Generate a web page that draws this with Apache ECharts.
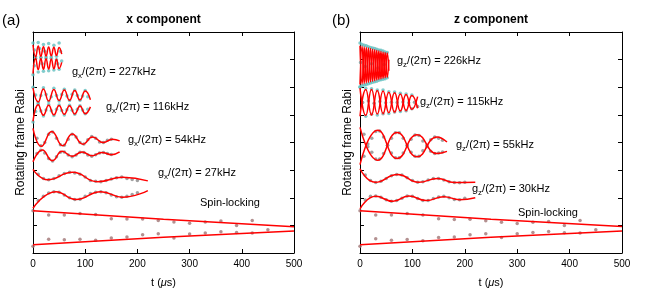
<!DOCTYPE html>
<html><head><meta charset="utf-8">
<script src="https://cdn.jsdelivr.net/npm/echarts@6/dist/echarts.min.js"></script>
<style>html,body{margin:0;padding:0;background:#fff}#c{width:654px;height:298px}</style>
</head><body><div id="c"></div>
<script>
// ---------- ticks ----------
const xTicks = [0, 100, 200, 300, 400, 500];
const yTickCount = 8;

// ---------- panel (a): x component ----------
const a227UpFit = [[0,7.53],[5,7.1],[10,7.49],[15,7.12],[20,7.47],[25,7.13],[30,7.46],[35,7.14],[40,7.45],[45,7.15],[50,7.44],[55,7.2]];
const a227LoFit = [[0,6.5],[5,7.05],[10,6.64],[15,7.04],[20,6.65],[25,7.03],[30,6.66],[35,7.02],[40,6.67],[45,7.01],[50,6.68],[55,6.9]];
const a227Pts = [[0,7.6],[2.5,7.35],[5,7.05],[10,7.62],[12.5,7.4],[15,7.08],[20,7.55],[22.5,7.3],[25,7.1],[30,7.58],[35,7.1],[40,7.52],[45,7.12],[50,7.6],[52.5,7.3],
  [0,6.45],[2.5,6.78],[5,7.1],[10,6.55],[15,7.08],[17.5,6.85],[20,6.58],[25,7.05],[30,6.6],[35,7.05],[40,6.62],[45,7.0],[47.5,6.85],[50,6.65],[55,6.95]];

const a116UpFit = [[0,5.97],[10,5.47],[20,5.94],[30,5.5],[40,5.92],[50,5.52],[60,5.9],[70,5.53],[80,5.88],[90,5.54],[100,5.86],[110,5.55]];
const a116LoFit = [[0,4.77],[10,5.37],[20,4.99],[30,5.35],[40,5.0],[50,5.34],[60,5.02],[70,5.33],[80,5.03],[90,5.32],[100,5.04],[110,5.29]];
const a116Pts = [[0,6.0],[5,5.72],[10,5.44],[15,5.7],[20,5.98],[25,5.74],[30,5.48],[35,5.66],[40,5.96],[45,5.7],[50,5.5],[55,5.74],[60,5.93],[65,5.68],[70,5.52],[75,5.75],[80,5.9],[85,5.7],[90,5.53],[95,5.68],[100,5.88],[105,5.66],
  [0,4.74],[5,5.12],[10,5.39],[15,5.14],[20,4.96],[25,5.18],[30,5.38],[35,5.15],[40,4.98],[45,5.2],[50,5.36],[55,5.16],[60,5.0],[65,5.19],[70,5.35],[75,5.17],[80,5.02],[85,5.2],[90,5.33],[95,5.18],[100,5.04],[105,5.2]];

const a54UpFit = [[0,4.51],[16,3.86],[36,4.4],[57,3.88],[75,4.31],[96,3.94],[114,4.2],[135,4.0],[152,4.12],[166,4.06]];
const a54LoFit = [[0,3.3],[18,3.73],[37,3.34],[56,3.68],[75,3.5],[94,3.66],[113,3.52],[132,3.64],[150,3.56],[166,3.66]];
const a54Pts = [[7.5,4.15],[15,3.88],[22.5,4.0],[30,4.3],[37.5,4.38],[45,4.15],[52.5,3.92],[60,3.9],[67.5,4.12],[75,4.3],[82.5,4.2],[90,4.0],[97.5,3.95],[105,4.1],[112.5,4.22],[120,4.15],[127.5,4.02],[135,4.0],[142.5,4.08],[150,4.12],
  [7.5,3.6],[15,3.72],[22.5,3.62],[30,3.42],[37.5,3.33],[45,3.48],[52.5,3.65],[60,3.66],[67.5,3.55],[75,3.48],[82.5,3.55],[90,3.65],[97.5,3.64],[105,3.55],[112.5,3.5],[120,3.56],[127.5,3.62],[135,3.64],[142.5,3.6],[150,3.57]];

const a27UpFit = [[0,3.03],[28,2.65],[76,2.92],[124,2.58],[172,2.74],[220,2.61]];
const a27LoFit = [[0,1.62],[44,2.22],[82,1.94],[130,2.22],[171,2.02],[220,2.26]];
const a27Pts = [[10,2.85],[20,2.7],[30,2.65],[40,2.7],[50,2.8],[60,2.88],[70,2.92],[80,2.9],[90,2.85],[100,2.75],[110,2.62],[120,2.6],[130,2.58],[140,2.62],[150,2.68],[160,2.72],[170,2.75],[180,2.7],[190,2.66],[200,2.62],
  [10,1.9],[20,2.05],[30,2.17],[40,2.22],[50,2.2],[60,2.1],[70,2.0],[80,1.94],[90,1.95],[100,2.05],[110,2.15],[120,2.2],[130,2.22],[140,2.18],[150,2.1],[160,2.04],[170,2.02],[180,2.05],[190,2.12],[200,2.18]];

const aSlUpFit = [[0,1.53],[250,1.22],[500,0.95]];
const aSlLoFit = [[0,0.3],[250,0.57],[500,0.8]];
const aSlPts = [[0,1.53],[30,1.38],[60,1.38],[90,1.43],[120,1.39],[150,1.24],[180,1.23],[210,1.23],[240,1.18],[270,1.12],[300,1.08],[330,1.12],[360,1.16],[390,1.0],[420,1.18],
  [0,0.24],[30,0.5],[60,0.48],[90,0.5],[120,0.46],[150,0.54],[180,0.58],[210,0.66],[240,0.7],[270,0.54],[300,0.69],[330,0.72],[360,0.77],[390,0.74],[420,0.72],[450,0.84]];

// ---------- panel (b): z component ----------
const b226AFit = [[0,7.5],[4,6.12],[8,7.46],[12,6.16],[16,7.42],[20,6.2],[24,7.38],[28,6.24],[32,7.34],[36,6.28],[40,7.3],[44,6.32],[48,7.26],[52,6.36],[55,7.0]];
const b226BFit = [[0,6.1],[4,7.48],[8,6.14],[12,7.44],[16,6.18],[20,7.4],[24,6.22],[28,7.36],[32,6.26],[36,7.32],[40,6.3],[44,7.28],[48,6.34],[52,7.24],[55,6.6]];
const b226Pts = [[0,7.6],[4,7.55],[8,7.52],[12,7.5],[16,7.47],[20,7.44],[24,7.42],[28,7.4],[32,7.38],[36,7.35],[40,7.34],[44,7.31],[48,7.28],[52,7.26],
  [1,6.9],[10,6.75],[22,6.85],[34,6.7],[46,6.82],
  [0,6.02],[4,6.06],[8,6.08],[12,6.1],[16,6.13],[20,6.15],[24,6.18],[28,6.2],[32,6.22],[36,6.25],[40,6.27],[44,6.29],[48,6.31],[52,6.34]];

const b115AFit = [[0,5.97],[11,4.98],[22,5.92],[33,5.03],[44,5.86],[55,5.08],[66,5.8],[77,5.14],[88,5.74],[99,5.2],[110,5.66]];
const b115BFit = [[0,4.95],[11,5.92],[22,5.0],[33,5.88],[44,5.05],[55,5.82],[66,5.1],[77,5.76],[88,5.16],[99,5.7],[110,5.24]];
const b115CyanPts = [[0,6.0],[11,5.96],[22,5.95],[33,5.9],[44,5.9],[55,5.84],[66,5.83],[77,5.78],[88,5.76],[99,5.72],[11,4.95],[33,5.0],[55,5.05],[77,5.12]];
const b115GrayPts = [[5,5.45],[16,5.5],[27,5.42],[38,5.48],[49,5.44],[60,5.46],[71,5.45],[82,5.47],[93,5.44],[104,5.46],[22,5.02],[44,5.04],[66,5.1],[88,5.15],[99,5.22],[110,5.3]];

const b55AFit = [[0,4.55],[34,3.36],[71,4.36],[109,3.48],[147,4.2],[166,4.02]];
const b55BFit = [[0,3.2],[34,4.44],[71,3.42],[109,4.28],[147,3.6],[166,3.68]];
const b55Pts = [[7.5,4.3],[15,3.95],[22.5,3.65],[30,3.4],[37.5,3.4],[45,3.6],[52.5,3.9],[60,4.15],[67.5,4.35],[75,4.35],[82.5,4.15],[90,3.9],[97.5,3.65],[105,3.5],[112.5,3.5],[120,3.7],[127.5,3.9],[135,4.1],[142.5,4.2],[150,4.15],[157.5,4.08],
  [7.5,3.5],[15,3.85],[22.5,4.15],[30,4.4],[37.5,4.42],[45,4.2],[52.5,3.9],[60,3.62],[67.5,3.45],[75,3.45],[82.5,3.62],[90,3.88],[97.5,4.12],[105,4.27],[112.5,4.25],[120,4.05],[127.5,3.85],[135,3.68],[142.5,3.6],[150,3.62],[157.5,3.66]];

const b30UpFit = [[0,3.05],[29,2.56],[72,2.84],[112,2.56],[148,2.7],[180,2.55],[220,2.56]];
const b30LoFit = [[0,1.6],[30,2.05],[63,1.87],[93,2.06],[126,1.9],[160,2.04],[190,1.93],[220,2.0]];
const b30Pts = [[10,2.82],[20,2.62],[30,2.55],[40,2.6],[50,2.7],[60,2.8],[70,2.84],[80,2.82],[90,2.72],[100,2.62],[110,2.56],[120,2.58],[130,2.64],[140,2.7],[150,2.7],[160,2.64],[170,2.58],[180,2.55],[190,2.54],[200,2.56],
  [10,1.92],[20,2.05],[30,2.06],[40,2.02],[50,1.93],[60,1.87],[70,1.9],[80,1.98],[90,2.06],[100,2.05],[110,1.97],[120,1.9],[130,1.9],[140,1.97],[150,2.03],[160,2.05],[170,2.0],[180,1.94],[190,1.93],[200,1.98]];

const bSlUpFit = [[0,1.53],[250,1.22],[500,0.96]];
const bSlLoFit = [[0,0.3],[250,0.57],[500,0.8]];
const bSlPts = [[0,1.53],[30,1.38],[60,1.38],[90,1.43],[120,1.38],[150,1.24],[180,1.21],[210,1.22],[240,1.17],[270,1.11],[300,1.07],[330,1.11],[360,1.14],[390,1.0],[420,1.18],
  [0,0.24],[30,0.52],[60,0.46],[90,0.49],[120,0.44],[150,0.56],[180,0.58],[210,0.66],[240,0.7],[270,0.56],[300,0.7],[330,0.74],[360,0.78],[390,0.73],[420,0.72],[450,0.84]];

// ---------- labels ----------
const titles = ['x component', 'z component'];
const panelTags = ['(a)', '(b)'];
const aLabels = [['x','227kHz'],['x','116kHz'],['x','54kHz'],['x','27kHz']];
const bLabels = [['z','226kHz'],['z','115kHz'],['z','55kHz'],['z','30kHz']];
const slLabel = 'Spin-locking';
const yName = 'Rotating frame Rabi';

// ---------- styles ----------
const FONT = 'Liberation Sans, Arial, Helvetica, sans-serif';
const RED = '#ff0000', CYAN = '#62bfbf', GRAY = '#8a8a8a', SLC = '#a07474';

const chart = echarts.init(document.getElementById('c'), null, {renderer:'canvas'});

const grids = [
  {left:33, top:32, width:261, height:221},
  {left:360, top:32, width:262, height:221}
];
const xAxes = [], yAxes = [];
grids.forEach((g, i) => {
  const common = {type:'value', gridIndex:i, min:xTicks[0], max:xTicks[xTicks.length-1], interval:100,
    splitLine:{show:false}, axisLine:{show:true, onZero:false, lineStyle:{color:'#000', width:1}},
    axisTick:{show:true, inside:true, length:4, lineStyle:{color:'#000'}}};
  xAxes.push(Object.assign({}, common, {position:'bottom',
    axisLabel:{show:true, color:'#000', fontSize:10, fontFamily:FONT, margin:6},
    name:'{n|t (}{m|μ}{n|s)}', nameLocation:'middle', nameGap:24,
    nameTextStyle:{rich:{n:{fontSize:11, fontFamily:FONT, color:'#000'}, m:{fontSize:11, fontFamily:FONT, fontStyle:'italic', color:'#000'}}}}));
  xAxes.push(Object.assign({}, common, {position:'top', axisLabel:{show:false}}));
  const ycommon = {type:'value', gridIndex:i, min:0, max:yTickCount, interval:1,
    splitLine:{show:false}, axisLabel:{show:false},
    axisLine:{show:true, onZero:false, lineStyle:{color:'#000', width:1}},
    axisTick:{show:true, inside:true, length:4, lineStyle:{color:'#000'}}};
  yAxes.push(Object.assign({}, ycommon, {position:'left', name:yName, nameLocation:'middle', nameGap:6,
    nameTextStyle:{fontSize:12, fontFamily:FONT, color:'#000', verticalAlign:'bottom'}}));
  yAxes.push(Object.assign({}, ycommon, {position:'right'}));
});

function fit(data, g){ return {type:'line', xAxisIndex:2*g, yAxisIndex:2*g, data:data, smooth:0.5, symbol:'none', showSymbol:false,
  lineStyle:{color:RED, width:1.5}, z:4, silent:true}; }
function pts(data, g, color){ return {type:'scatter', xAxisIndex:2*g, yAxisIndex:2*g, data:data, symbolSize:3.5,
  itemStyle:{color:color}, z:3, silent:true}; }

const series = [
  pts(a227Pts,0,CYAN), pts(a116Pts,0,CYAN), pts(a54Pts,0,GRAY), pts(a27Pts,0,GRAY), pts(aSlPts,0,SLC),
  fit(a227UpFit,0), fit(a227LoFit,0), fit(a116UpFit,0), fit(a116LoFit,0), fit(a54UpFit,0), fit(a54LoFit,0),
  fit(a27UpFit,0), fit(a27LoFit,0), fit(aSlUpFit,0), fit(aSlLoFit,0),
  pts(b226Pts,1,CYAN), pts(b115CyanPts,1,CYAN), pts(b115GrayPts,1,GRAY), pts(b55Pts,1,GRAY), pts(b30Pts,1,GRAY), pts(bSlPts,1,SLC),
  fit(b226AFit,1), fit(b226BFit,1), fit(b115AFit,1), fit(b115BFit,1), fit(b55AFit,1), fit(b55BFit,1),
  fit(b30UpFit,1), fit(b30LoFit,1), fit(bSlUpFit,1), fit(bSlLoFit,1)
];

const richG = {
  g:{fontSize:11, fontFamily:FONT, fill:'#000'},
  s:{fontSize:8, fontFamily:FONT, fill:'#000', padding:[7,0,0,0]},
  n:{fontSize:11, fontFamily:FONT, fill:'#000'}
};
function gLabel(lab, x, y){
  return {type:'text', x:x, y:y, silent:true, style:{text:'{g|g}{s|'+lab[0]+'}{n|/(2π) = '+lab[1]+'}', rich:richG, verticalAlign:'middle', align:'left'}};
}
const aPos = [[72,72],[106,107],[128,140],[158,173]];
const bPos = [[397,61],[420,102],[456,145],[472,189]];
const graphic = [];
aLabels.forEach((l,i)=>graphic.push(gLabel(l, aPos[i][0], aPos[i][1])));
bLabels.forEach((l,i)=>graphic.push(gLabel(l, bPos[i][0], bPos[i][1])));
graphic.push({type:'text', x:200, y:203, silent:true, style:{text:slLabel, fontSize:11, fontFamily:FONT, fill:'#000', verticalAlign:'middle'}});
graphic.push({type:'text', x:518, y:213, silent:true, style:{text:slLabel, fontSize:11, fontFamily:FONT, fill:'#000', verticalAlign:'middle'}});
graphic.push({type:'text', x:163.5, y:20, silent:true, style:{text:titles[0], fontSize:12, fontWeight:'bold', fontFamily:FONT, fill:'#000', align:'center', verticalAlign:'middle'}});
graphic.push({type:'text', x:491, y:20, silent:true, style:{text:titles[1], fontSize:12, fontWeight:'bold', fontFamily:FONT, fill:'#000', align:'center', verticalAlign:'middle'}});
graphic.push({type:'text', x:2, y:21, silent:true, style:{text:panelTags[0], fontSize:15, fontFamily:FONT, fill:'#000', verticalAlign:'middle'}});
graphic.push({type:'text', x:332, y:21, silent:true, style:{text:panelTags[1], fontSize:15, fontFamily:FONT, fill:'#000', verticalAlign:'middle'}});

chart.setOption({
  animation:false,
  grid:grids,
  xAxis:xAxes,
  yAxis:yAxes,
  series:series,
  graphic:graphic
});
</script></body></html>
